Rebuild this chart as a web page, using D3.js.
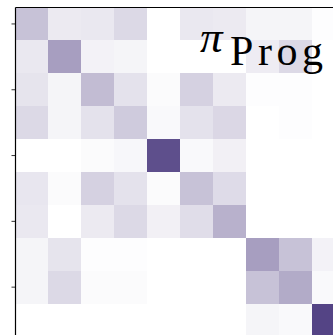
<!DOCTYPE html>
<html>
<head>
<meta charset="utf-8">
<script src="https://cdn.jsdelivr.net/npm/d3@7"></script>
<style>
  html, body { margin: 0; padding: 0; background: #fff; overflow: hidden; }
  svg { display: block; }
</style>
</head>
<body>
<svg id="chart" width="333" height="335"></svg>
<script>
// Row / column indices
const rows = [0, 1, 2, 3, 4, 5, 6, 7, 8, 9];
const cols = [0, 1, 2, 3, 4, 5, 6, 7, 8, 9];
// Tick positions shown on the left axis
const yTicks = [0, 2, 4, 6, 8];

// Heatmap values, one array per row
const row0 = [0.29, 0.10, 0.11, 0.18, 0.00, 0.11, 0.10, 0.05, 0.05, 0.01];
const row1 = [0.11, 0.46, 0.06, 0.05, 0.00, 0.00, 0.00, 0.09, 0.18, 0.00];
const row2 = [0.13, 0.05, 0.32, 0.14, 0.02, 0.22, 0.10, 0.01, 0.01, 0.00];
const row3 = [0.18, 0.05, 0.14, 0.25, 0.03, 0.14, 0.19, 0.00, 0.01, 0.00];
const row4 = [0.00, 0.00, 0.02, 0.04, 0.84, 0.03, 0.07, 0.00, 0.00, 0.00];
const row5 = [0.12, 0.02, 0.22, 0.14, 0.02, 0.29, 0.17, 0.00, 0.00, 0.00];
const row6 = [0.11, 0.00, 0.10, 0.18, 0.07, 0.16, 0.37, 0.00, 0.00, 0.00];
const row7 = [0.05, 0.13, 0.01, 0.01, 0.00, 0.00, 0.00, 0.46, 0.29, 0.06];
const row8 = [0.05, 0.18, 0.02, 0.02, 0.00, 0.00, 0.00, 0.29, 0.40, 0.03];
const row9 = [0.00, 0.00, 0.00, 0.00, 0.00, 0.00, 0.00, 0.05, 0.03, 0.89];
const values = [row0, row1, row2, row3, row4, row5, row6, row7, row8, row9];

const titleMain = "π";
const titleSub = "Prog";

const svg = d3.select("#chart");
const marginLeft = 15.5, marginTop = 7.5, cell = 32.9;

const x = d3.scaleBand().domain(cols).range([marginLeft, marginLeft + cols.length * cell]).padding(0);
const y = d3.scaleBand().domain(rows).range([marginTop, marginTop + rows.length * cell]).padding(0);
const color = d3.scaleLinear().domain([0, 1]).range(["#ffffff", "#3f2d76"]).interpolate(d3.interpolateRgb).clamp(true);

const cells = [];
rows.forEach(r => cols.forEach(c => cells.push({ r, c, v: values[r][c] })));

svg.append("g")
  .selectAll("rect")
  .data(cells)
  .join("rect")
  .attr("x", d => x(d.c))
  .attr("y", d => y(d.r))
  .attr("width", x.bandwidth() + 0.5)
  .attr("height", y.bandwidth() + 0.5)
  .attr("fill", d => color(d.v))
  .attr("shape-rendering", "crispEdges");

// Left axis with ticks at row centers
const yAxis = d3.axisLeft(y).tickValues(yTicks).tickSize(4).tickSizeOuter(0).tickFormat("");
const gy = svg.append("g").attr("transform", `translate(${marginLeft},0)`).call(yAxis);
gy.select(".domain").remove();
gy.selectAll(".tick line").attr("stroke", "#333").attr("stroke-width", 1);

// Spines: left and top
svg.append("line")
  .attr("x1", marginLeft).attr("x2", marginLeft)
  .attr("y1", marginTop).attr("y2", marginTop + rows.length * cell)
  .attr("stroke", "#000").attr("stroke-width", 1.2);
svg.append("line")
  .attr("x1", marginLeft).attr("x2", marginLeft + cols.length * cell)
  .attr("y1", marginTop).attr("y2", marginTop)
  .attr("stroke", "#000").attr("stroke-width", 1.2);

// Label: π with subscript "Prog"
svg.append("text")
  .attr("x", 200)
  .attr("y", 52)
  .attr("font-family", "Liberation Serif")
  .attr("font-style", "italic")
  .attr("font-size", 45)
  .attr("fill", "#000")
  .text(titleMain);
svg.append("text")
  .attr("x", 230)
  .attr("y", 65)
  .attr("font-family", "Liberation Serif")
  .attr("font-size", 42)
  .attr("textLength", 93)
  .attr("lengthAdjust", "spacing")
  .attr("fill", "#000")
  .text(titleSub);
</script>
</body>
</html>
